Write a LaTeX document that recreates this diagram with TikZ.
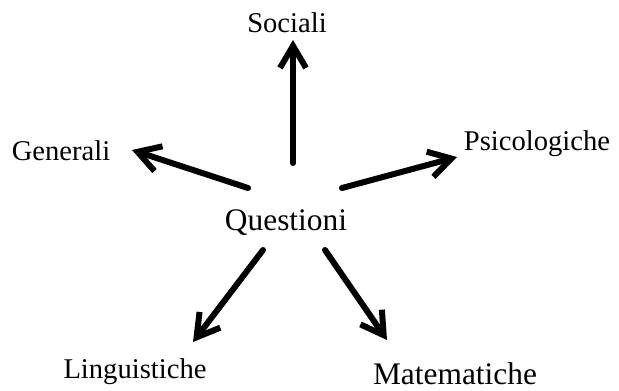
\documentclass[tikz,border=0pt]{standalone}
\usepackage{fontspec}
\setmainfont{Liberation Serif}
\usetikzlibrary{arrows.meta}
\tikzset{lbl/.style={anchor=base,inner sep=0pt,font=\fontsize{14.3}{17}\selectfont},arr/.style={-{Straight Barb[length=11pt,width=13pt]},line width=3pt,line cap=round}}
\begin{document}
\begin{tikzpicture}[x=0.5pt,y=-0.5pt]
\useasboundingbox (0,0) rectangle (619,390);
\node[lbl,font=\fontsize{15.7}{18}\selectfont] (q) at (286,230) {Questioni};
\node[lbl] (soc) at (287,33) {Sociali};
\node[lbl] (gen) at (61,160) {Generali};
\node[lbl] (psi) at (537,150) {Psicologiche};
\node[lbl] (ling) at (135,378) {Linguistiche};
\node[lbl,font=\fontsize{15.7}{18}\selectfont] (mat) at (455,384) {Matematiche};
% arrow ends
\coordinate (q-soc) at (293,163);\coordinate (soc-tip) at (293,40);
\coordinate (q-gen) at (248,188);\coordinate (gen-tip) at (132,150);
\coordinate (q-psi) at (342,188);\coordinate (psi-tip) at (457,157);
\coordinate (q-ling) at (263,250);\coordinate (ling-tip) at (193,342);
\coordinate (q-mat) at (325,250);\coordinate (mat-tip) at (387,340);
\foreach \n in {soc,gen,psi,ling,mat}{\draw[arr] (q-\n)--(\n-tip);}
\end{tikzpicture}
\end{document}
